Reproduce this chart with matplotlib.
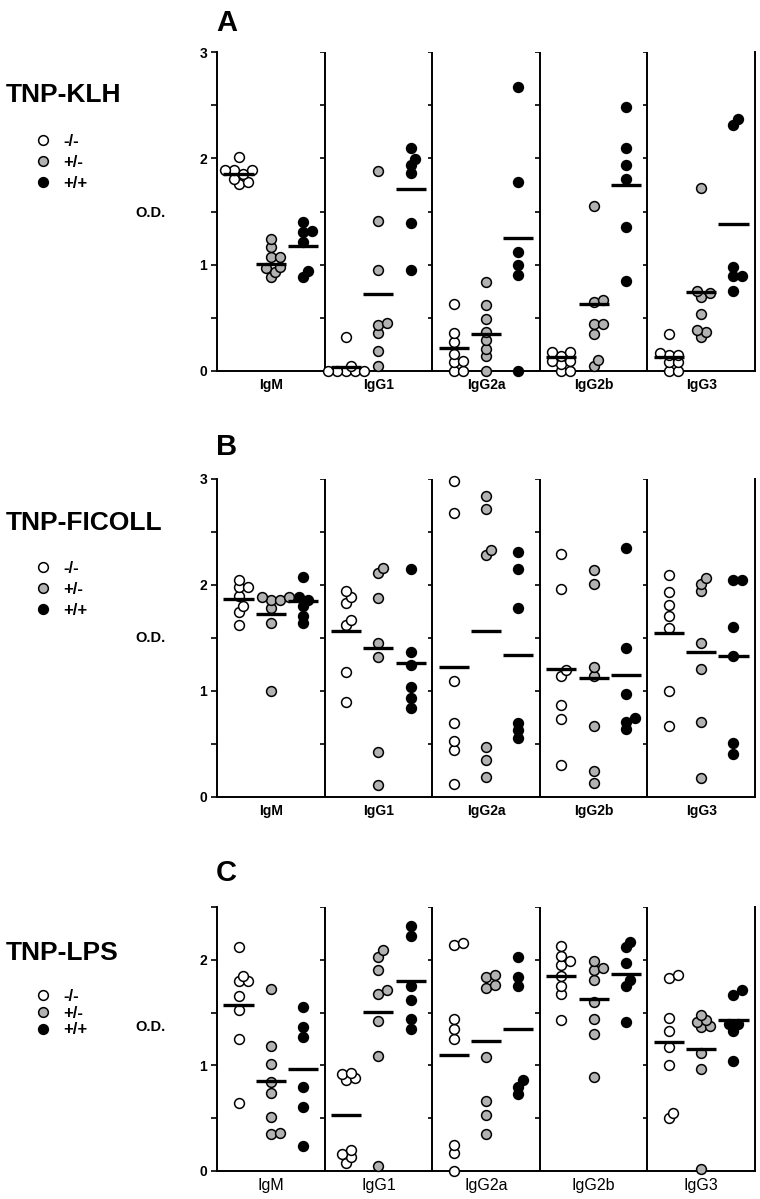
import numpy as np
import matplotlib.pyplot as plt
from matplotlib.lines import Line2D

plt.rcParams['font.family'] = ['Liberation Sans', 'DejaVu Sans']
plt.rcParams['font.weight'] = 'bold'

isotypes = ['IgM', 'IgG1', 'IgG2a', 'IgG2b', 'IgG3']
genotypes = ['-/-', '+/-', '+/+']
fills = ['white', '#b2b2b2', 'black']

# O.D. values, one list per isotype (IgM, IgG1, IgG2a, IgG2b, IgG3)
# A - TNP-KLH
klh_neg = [[2.01, 1.89, 1.89, 1.89, 1.85, 1.81, 1.78, 1.76],
           [0.32, 0.05, 0.0, 0.0, 0.0, 0.0, 0.0],
           [0.63, 0.36, 0.27, 0.16, 0.09, 0.08, 0.0, 0.0],
           [0.18, 0.18, 0.14, 0.09, 0.09, 0.07, 0.0, 0.0],
           [0.35, 0.17, 0.15, 0.15, 0.08, 0.08, 0.0, 0.0]]
klh_het = [[1.24, 1.17, 1.07, 1.07, 0.98, 0.97, 0.93, 0.88],
           [1.88, 1.41, 0.95, 0.45, 0.43, 0.36, 0.19, 0.05],
           [0.84, 0.62, 0.49, 0.37, 0.29, 0.21, 0.14, 0.0],
           [1.55, 0.67, 0.65, 0.44, 0.44, 0.35, 0.10, 0.05],
           [1.72, 0.75, 0.73, 0.70, 0.54, 0.39, 0.37, 0.32]]
klh_wt = [[1.40, 1.32, 1.31, 1.21, 0.94, 0.88],
          [2.10, 1.99, 1.94, 1.86, 1.39, 0.95],
          [2.67, 1.78, 1.12, 1.00, 0.90, 0.0],
          [2.48, 2.10, 1.94, 1.81, 1.35, 0.85],
          [2.37, 2.31, 0.98, 0.89, 0.89, 0.75]]
klh_means = [[1.85, 0.04, 0.22, 0.13, 0.13],
             [1.01, 0.72, 0.35, 0.63, 0.74],
             [1.18, 1.71, 1.25, 1.75, 1.38]]

# B - TNP-FICOLL
fic_neg = [[2.05, 1.98, 1.98, 1.90, 1.80, 1.75, 1.62],
           [1.94, 1.89, 1.83, 1.67, 1.62, 1.18, 0.90],
           [2.98, 2.68, 1.09, 0.70, 0.53, 0.44, 0.12],
           [2.29, 1.96, 1.20, 1.14, 0.87, 0.74, 0.30],
           [2.09, 1.93, 1.81, 1.71, 1.59, 1.00, 0.67]]
fic_het = [[1.89, 1.89, 1.86, 1.86, 1.78, 1.64, 1.00],
           [2.16, 2.11, 1.88, 1.45, 1.32, 0.42, 0.11],
           [2.84, 2.72, 2.33, 2.28, 0.47, 0.35, 0.19],
           [2.14, 2.01, 1.23, 1.14, 0.67, 0.25, 0.13],
           [2.07, 2.01, 1.94, 1.45, 1.21, 0.71, 0.18]]
fic_wt = [[2.08, 1.89, 1.86, 1.80, 1.71, 1.64],
          [2.15, 1.37, 1.25, 1.04, 0.93, 0.84],
          [2.31, 2.15, 1.78, 0.70, 0.63, 0.56],
          [2.35, 1.41, 0.97, 0.75, 0.71, 0.64],
          [2.05, 2.05, 1.60, 1.33, 0.51, 0.41]]
fic_means = [[1.87, 1.57, 1.23, 1.21, 1.55],
             [1.73, 1.41, 1.57, 1.12, 1.37],
             [1.85, 1.26, 1.34, 1.15, 1.33]]

# C - TNP-LPS
lps_neg = [[2.12, 1.85, 1.80, 1.80, 1.66, 1.52, 1.25, 0.64],
           [0.93, 0.92, 0.88, 0.86, 0.20, 0.16, 0.13, 0.08],
           [2.16, 2.14, 1.44, 1.34, 1.25, 0.25, 0.17, 0.0],
           [2.13, 2.04, 1.99, 1.95, 1.85, 1.75, 1.68, 1.43],
           [1.86, 1.83, 1.45, 1.33, 1.17, 1.00, 0.55, 0.50]]
lps_het = [[1.72, 1.18, 1.01, 0.84, 0.74, 0.51, 0.36, 0.35],
           [2.09, 2.03, 1.90, 1.71, 1.68, 1.42, 1.09, 0.05],
           [1.86, 1.84, 1.76, 1.73, 1.08, 0.66, 0.53, 0.35],
           [1.99, 1.92, 1.90, 1.81, 1.60, 1.44, 1.30, 0.89],
           [1.48, 1.43, 1.41, 1.37, 1.36, 1.12, 0.97, 0.02]]
lps_wt = [[1.55, 1.36, 1.27, 0.80, 0.61, 0.24],
          [2.32, 2.23, 1.75, 1.62, 1.44, 1.34],
          [2.03, 1.84, 1.75, 0.86, 0.80, 0.73],
          [2.17, 2.12, 1.97, 1.81, 1.75, 1.41],
          [1.71, 1.67, 1.39, 1.39, 1.33, 1.04]]
lps_means = [[1.57, 0.53, 1.10, 1.85, 1.22],
             [0.85, 1.51, 1.23, 1.63, 1.16],
             [0.97, 1.80, 1.34, 1.87, 1.43]]

W, H = 760, 1199
fig = plt.figure(figsize=(W / 100, H / 100), dpi=100)


def swarm(vals, centre, ppx, ppy, mind=6.5, step=4.5):
    # simple beeswarm: shift a dot sideways until it sits clear enough of the others
    placed = []
    for v in sorted(vals):
        for k in [0, 1, -1, 2, -2, 3, -3, 4, -4, 5, -5]:
            x = centre + k * step / ppx
            if all(np.hypot((x - px) * ppx, (v - py) * ppy) >= mind for px, py in placed):
                break
        placed.append((x, v))
    xs = [p[0] for p in placed]
    ys = [p[1] for p in placed]
    return xs, ys


def panel(top, bottom, ymax, groups, means, letter, title, leg_y, leg_sp, od_y, lab_kw):
    left, right = 217, 755
    ax = fig.add_axes([left / W, 1 - bottom / H, (right - left) / W, (bottom - top) / H])
    ax.set_xlim(0, 5)
    ax.set_ylim(0, ymax)
    ppx = (right - left) / 5
    ppy = (bottom - top) / ymax

    for g in range(3):
        for i in range(5):
            c = i + 0.2 + 0.3 * g
            xs, ys = swarm(groups[g][i], c, ppx, ppy)
            ax.scatter(xs, ys, s=50, c=fills[g], edgecolors='black',
                       linewidths=1.1, zorder=3, clip_on=False)
            ax.hlines(means[g][i], c - 0.14, c + 0.14, color='black', lw=2.4, zorder=4)

    yt = np.arange(0, ymax + 0.01, 0.5)
    ax.set_yticks(yt)
    ax.set_yticklabels([str(int(t)) if t == int(t) else '' for t in yt], fontsize=10)
    ax.tick_params(axis='y', direction='out', length=4, width=1.2, pad=3)
    ax.set_xticks(np.arange(5) + 0.5)
    ax.set_xticklabels(isotypes, **lab_kw)
    ax.tick_params(axis='x', length=0, pad=5)

    for s in ['left', 'bottom', 'right']:
        ax.spines[s].set_linewidth(1.4)
    ax.spines['top'].set_visible(False)
    for d in range(1, 5):
        ax.vlines(d, 0, ymax, color='black', lw=1.4)
        ax.hlines(yt, d - 0.04, d, color='black', lw=1.2)

    fig.text(216 / W, 1 - letter[1] / H, letter[0], fontsize=21, weight='bold', va='center')
    fig.text(6 / W, 1 - title[1] / H, title[0], fontsize=19, weight='bold', va='center')
    fig.text(135 / W, 1 - od_y / H, 'O.D.', fontsize=10.5, weight='bold', va='center')

    handles = [Line2D([], [], marker='o', ls='', mfc=f, mec='black', ms=7, mew=1.1) for f in fills]
    fig.legend(handles, genotypes, loc='upper left', bbox_to_anchor=(35 / W, 1 - leg_y / H),
               frameon=False, fontsize=12, handlelength=1.0, handletextpad=0.7,
               labelspacing=leg_sp, borderpad=0, borderaxespad=0)


panel(52, 371, 3.0, [klh_neg, klh_het, klh_wt], klh_means, ('A', 23), ('TNP-KLH', 95),
      134, 0.35, 213, dict(fontsize=10, weight='bold'))
panel(479, 797, 3.0, [fic_neg, fic_het, fic_wt], fic_means, ('B', 447), ('TNP-FICOLL', 523),
      561, 0.35, 638, dict(fontsize=10, weight='bold'))
panel(907, 1171, 2.5, [lps_neg, lps_het, lps_wt], lps_means, ('C', 873), ('TNP-LPS', 953),
      989, 0.1, 1027, dict(fontsize=11.5, weight='normal'))

fig.savefig('out.png', dpi=100)
